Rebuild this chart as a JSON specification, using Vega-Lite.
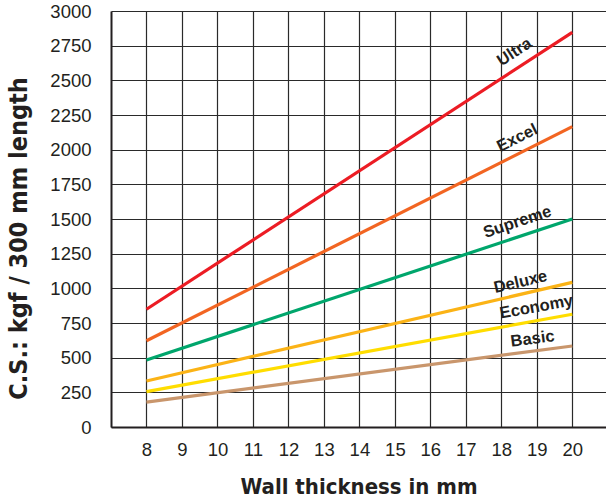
{
  "$schema": "https://vega.github.io/schema/vega-lite/v6.json",
  "width": 495,
  "height": 416,
  "autosize": {"type": "none"},
  "padding": {"left": 111, "top": 11, "right": 0, "bottom": 77},
  "background": "white",
  "config": {
    "view": {"stroke": null},
    "font": "Liberation Sans",
    "axis": {"labelFont": "Liberation Sans", "labelFontSize": 18.5, "labelColor": "#231f20", "titleColor": "#231f20", "gridColor": "#2a2a2a", "gridWidth": 1.2, "gridOpacity": 1, "domainColor": "#231f20", "domainWidth": 2, "ticks": false, "labelOverlap": false, "labelFlush": false},
    "axisY": {"labelOverlap": false},
    "axisX": {"labelOverlap": false}
  },
  "datasets": {
    "lines": [
      {"grade": "Ultra", "t": 8, "cs": 849},
      {"grade": "Ultra", "t": 20, "cs": 2846},
      {"grade": "Excel", "t": 8, "cs": 622},
      {"grade": "Excel", "t": 20, "cs": 2166},
      {"grade": "Supreme", "t": 8, "cs": 483},
      {"grade": "Supreme", "t": 20, "cs": 1500},
      {"grade": "Deluxe", "t": 8, "cs": 332},
      {"grade": "Deluxe", "t": 20, "cs": 1043},
      {"grade": "Economy", "t": 8, "cs": 255},
      {"grade": "Economy", "t": 20, "cs": 813},
      {"grade": "Basic", "t": 8, "cs": 180},
      {"grade": "Basic", "t": 20, "cs": 584}
    ],
    "labels": [
      {"grade": "Ultra", "t": 18.37, "cs": 2704},
      {"grade": "Excel", "t": 18.45, "cs": 2084},
      {"grade": "Supreme", "t": 18.45, "cs": 1478},
      {"grade": "Deluxe", "t": 18.54, "cs": 1046},
      {"grade": "Economy", "t": 18.99, "cs": 865},
      {"grade": "Basic", "t": 18.88, "cs": 635}
    ]
  },
  "encoding": {
    "x": {
      "field": "t", "type": "quantitative",
      "scale": {"domain": [7, 20.95], "nice": false, "zero": false},
      "axis": {"values": [8, 9, 10, 11, 12, 13, 14, 15, 16, 17, 18, 19, 20], "format": "d", "grid": true, "labelPadding": 13, "labelOverlap": false,
               "title": "Wall thickness in mm", "titleFont": "DejaVu Sans Condensed", "titleFontWeight": "bold", "titleFontSize": 22, "titlePadding": 18}
    },
    "y": {
      "field": "cs", "type": "quantitative",
      "scale": {"domain": [0, 3000], "nice": false},
      "axis": {"values": [0, 250, 500, 750, 1000, 1250, 1500, 1750, 2000, 2250, 2500, 2750, 3000], "format": "d", "grid": true, "labelPadding": 20, "labelOverlap": false,
               "title": "C.S.: kgf / 300 mm length", "titleFont": "DejaVu Sans Condensed", "titleFontWeight": "bold", "titleFontSize": 25, "titlePadding": 18, "titleY": 227}
    }
  },
  "layer": [
    {
      "data": {"name": "lines"},
      "mark": {"type": "line", "strokeWidth": 3.2, "strokeCap": "butt"},
      "encoding": {
        "color": {
          "field": "grade", "type": "nominal", "legend": null,
          "scale": {"domain": ["Ultra", "Excel", "Supreme", "Deluxe", "Economy", "Basic"],
                    "range": ["#ec1c24", "#f26522", "#00a66c", "#fbb316", "#ffdd00", "#c9966c"]}
        }
      }
    },
    {
      "data": {"name": "labels"},
      "transform": [{"filter": "datum.grade === 'Ultra'"}],
      "mark": {"type": "text", "angle": -33, "fontWeight": "bold", "fontSize": 16.5, "color": "#231f20"},
      "encoding": {"text": {"field": "grade"}}
    },
    {
      "data": {"name": "labels"},
      "transform": [{"filter": "datum.grade === 'Excel'"}],
      "mark": {"type": "text", "angle": -26.6, "fontWeight": "bold", "fontSize": 16.5, "color": "#231f20"},
      "encoding": {"text": {"field": "grade"}}
    },
    {
      "data": {"name": "labels"},
      "transform": [{"filter": "datum.grade === 'Supreme'"}],
      "mark": {"type": "text", "angle": -18.4, "fontWeight": "bold", "fontSize": 16.5, "color": "#231f20"},
      "encoding": {"text": {"field": "grade"}}
    },
    {
      "data": {"name": "labels"},
      "transform": [{"filter": "datum.grade === 'Deluxe'"}],
      "mark": {"type": "text", "angle": -13, "fontWeight": "bold", "fontSize": 16.5, "color": "#231f20"},
      "encoding": {"text": {"field": "grade"}}
    },
    {
      "data": {"name": "labels"},
      "transform": [{"filter": "datum.grade === 'Economy'"}],
      "mark": {"type": "text", "angle": -10.3, "fontWeight": "bold", "fontSize": 16.5, "color": "#231f20"},
      "encoding": {"text": {"field": "grade"}}
    },
    {
      "data": {"name": "labels"},
      "transform": [{"filter": "datum.grade === 'Basic'"}],
      "mark": {"type": "text", "angle": -7.4, "fontWeight": "bold", "fontSize": 16.5, "color": "#231f20"},
      "encoding": {"text": {"field": "grade"}}
    }
  ]
}
